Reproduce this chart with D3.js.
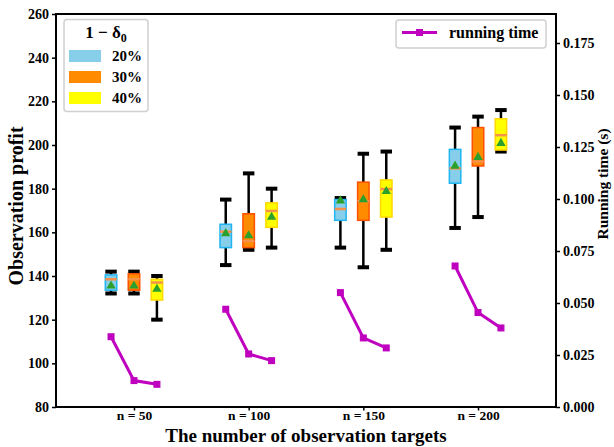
<!DOCTYPE html>
<html>
<head>
<meta charset="utf-8">
<script src="https://cdn.jsdelivr.net/npm/d3@7"></script>
<style>
  body { margin: 0; background: #fff; }
  text { font-family: "Liberation Serif", "DejaVu Serif", serif; font-weight: bold; }
</style>
</head>
<body>
<div id="chart"></div>
<script>
// categories and series
const categories = ["n = 50", "n = 100", "n = 150", "n = 200"];
const levels = ["20%", "30%", "40%"];

// box stats, one row per level (20%, 30%, 40%), one value per category
const whiskerLow = [[132, 145, 153, 162], [132, 152, 144, 167], [120, 153, 152, 197]];
const q1 = [[133.5, 153, 165.5, 182.5], [133.5, 153, 165.5, 190.4], [129, 162.3, 167, 197.7]];
const median = [[138.5, 160.3, 170.7, 189.3], [138.5, 156, 174.3, 192.4], [137, 169.8, 179.8, 204.5]];
const q3 = [[140.5, 163.7, 175, 198], [141, 168.5, 183, 208], [138.5, 173.5, 184, 212]];
const whiskerHigh = [[142, 175, 175.7, 208], [142, 187, 196, 213], [140, 180, 197, 216]];
const mean = [[135.5, 159.5, 174.5, 190.4], [135.5, 158.5, 175, 194.4], [134, 167, 178.8, 200.8]];

// running time (s), one row per level
const runTime = [[0.0338, 0.047, 0.055, 0.0678], [0.0127, 0.0255, 0.0332, 0.0454], [0.0109, 0.0223, 0.0284, 0.038]];

const leftTicks = [80, 100, 120, 140, 160, 180, 200, 220, 240, 260];
const rightTicks = [0, 0.025, 0.05, 0.075, 0.1, 0.125, 0.15, 0.175];

const fills = ["#87ceeb", "#ff8c00", "#ffff00"];
const edges = ["#1fb5f2", "#ff4f00", "#ffd800"];
const offsets = [-0.2, 0, 0.2];
const boxW = 0.1;

const width = 614, height = 447;
const svg = d3.select("#chart").append("svg")
  .attr("width", width)
  .attr("height", height);

const x = d3.scaleLinear().domain([-0.68, 3.68]).range([56, 556]);
const y = d3.scaleLinear().domain([80, 260]).range([407, 14]);
const y2 = d3.scaleLinear().domain([0, 0.18894]).range([407, 14]);

// axes
const xAxis = svg.append("g")
  .attr("transform", "translate(0,407)")
  .call(d3.axisBottom(x).tickValues(d3.range(categories.length)).tickFormat(i => categories[i]).tickSize(3.5).tickPadding(0));
const yAxis = svg.append("g")
  .attr("transform", "translate(56,0)")
  .call(d3.axisLeft(y).tickValues(leftTicks).tickSize(4).tickPadding(3));
const yAxis2 = svg.append("g")
  .attr("transform", "translate(556,0)")
  .call(d3.axisRight(y2).tickValues(rightTicks).tickFormat(d3.format(".3f")).tickSize(4).tickPadding(3));

[xAxis, yAxis, yAxis2].forEach(g => {
  g.attr("font-size", 14);
  g.select(".domain").remove();
  g.selectAll(".tick line").attr("stroke", "#000").attr("stroke-width", 1.5);
  g.selectAll(".tick text").attr("fill", "#000");
});
xAxis.attr("font-size", 13.5);

// boxes
levels.forEach((lev, li) => {
  categories.forEach((cat, ci) => {
    const cx = ci + offsets[li];
    const g = svg.append("g");
    // whiskers
    g.append("line")
      .attr("x1", x(cx)).attr("x2", x(cx))
      .attr("y1", y(whiskerLow[li][ci])).attr("y2", y(q1[li][ci]))
      .attr("stroke", "#000").attr("stroke-width", 2.5);
    g.append("line")
      .attr("x1", x(cx)).attr("x2", x(cx))
      .attr("y1", y(q3[li][ci])).attr("y2", y(whiskerHigh[li][ci]))
      .attr("stroke", "#000").attr("stroke-width", 2.5);
    // caps
    [whiskerLow[li][ci], whiskerHigh[li][ci]].forEach(v => {
      g.append("line")
        .attr("x1", x(cx - boxW / 2)).attr("x2", x(cx + boxW / 2))
        .attr("y1", y(v)).attr("y2", y(v))
        .attr("stroke", "#000").attr("stroke-width", 4);
    });
    // box
    g.append("rect")
      .attr("x", x(cx - boxW / 2))
      .attr("width", x(cx + boxW / 2) - x(cx - boxW / 2))
      .attr("y", y(q3[li][ci]))
      .attr("height", y(q1[li][ci]) - y(q3[li][ci]))
      .attr("fill", fills[li])
      .attr("stroke", edges[li]).attr("stroke-width", 1.5);
    // median
    g.append("line")
      .attr("x1", x(cx - boxW / 2)).attr("x2", x(cx + boxW / 2))
      .attr("y1", y(median[li][ci])).attr("y2", y(median[li][ci]))
      .attr("stroke", "#f5914a").attr("stroke-width", 2.5);
    // mean
    g.append("path")
      .attr("d", d3.symbol(d3.symbolTriangle, 38)())
      .attr("transform", `translate(${x(cx)},${y(mean[li][ci])})`)
      .attr("fill", "#2ca02c");
  });
});

// running time lines, one per category
const line = d3.line().x(d => x(d[0])).y(d => y2(d[1]));
categories.forEach((cat, ci) => {
  const pts = levels.map((lev, li) => [ci + offsets[li], runTime[li][ci]]);
  svg.append("path")
    .attr("d", line(pts))
    .attr("fill", "none")
    .attr("stroke", "#bf00bf")
    .attr("stroke-width", 3);
  svg.selectAll(null).data(pts).enter().append("rect")
    .attr("x", d => x(d[0]) - 3.5)
    .attr("y", d => y2(d[1]) - 3.5)
    .attr("width", 7).attr("height", 7)
    .attr("fill", "#bf00bf");
});

// frame
svg.append("rect")
  .attr("x", 56).attr("y", 14)
  .attr("width", 500).attr("height", 393)
  .attr("fill", "none").attr("stroke", "#000").attr("stroke-width", 2);

// axis titles
svg.append("text")
  .attr("x", 306).attr("y", 441.5)
  .attr("text-anchor", "middle")
  .style("font-size", "19px")
  .text("The number of observation targets");
svg.append("text")
  .attr("transform", "translate(23,206) rotate(-90)")
  .attr("text-anchor", "middle")
  .style("font-size", "20px")
  .text("Observation profit");
svg.append("text")
  .attr("transform", "translate(608,184) rotate(-90)")
  .attr("text-anchor", "middle")
  .style("font-size", "15.5px")
  .text("Running time (s)");

// legend: levels
const leg = svg.append("g");
leg.append("rect")
  .attr("x", 64).attr("y", 19.5).attr("width", 84).attr("height", 92)
  .attr("rx", 3)
  .attr("fill", "#fff").attr("fill-opacity", 0.8)
  .attr("stroke", "#d0d0d0").attr("stroke-width", 1.5);
const title = leg.append("text")
  .attr("x", 106).attr("y", 38)
  .attr("text-anchor", "middle")
  .style("font-size", "17px");
title.append("tspan").text("1 \u2212 \u03b4");
title.append("tspan").attr("dy", 4).style("font-size", "12px").text("0");
levels.forEach((lev, li) => {
  const ry = 50 + li * 21;
  leg.append("rect")
    .attr("x", 69).attr("y", ry).attr("width", 32).attr("height", 12)
    .attr("fill", fills[li]);
  leg.append("text")
    .attr("x", 112).attr("y", ry + 11)
    .style("font-size", "15px")
    .text(lev);
});

// legend: running time
const leg2 = svg.append("g");
leg2.append("rect")
  .attr("x", 396).attr("y", 20).attr("width", 150).attr("height", 28)
  .attr("rx", 3)
  .attr("fill", "#fff").attr("fill-opacity", 0.8)
  .attr("stroke", "#d0d0d0").attr("stroke-width", 1.5);
leg2.append("line")
  .attr("x1", 402).attr("x2", 437).attr("y1", 32.5).attr("y2", 32.5)
  .attr("stroke", "#bf00bf").attr("stroke-width", 3);
leg2.append("rect")
  .attr("x", 416).attr("y", 29).attr("width", 7).attr("height", 7)
  .attr("fill", "#bf00bf");
leg2.append("text")
  .attr("x", 449).attr("y", 38)
  .style("font-size", "16px")
  .text("running time");
</script>
</body>
</html>
